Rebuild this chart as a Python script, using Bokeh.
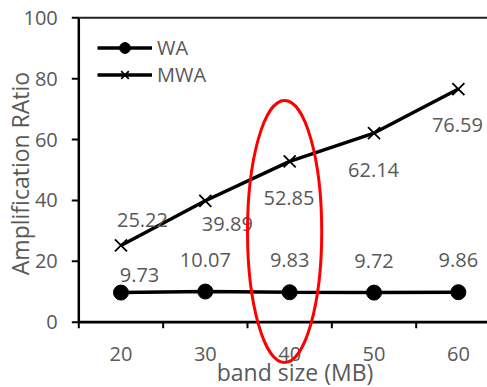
import math
from bokeh.plotting import figure
from bokeh.models import Range1d, Legend, LegendItem
from bokeh.core.properties import value
from bokeh.embed import file_html
from bokeh.resources import INLINE

# ---- data ----
band_sizes = [20, 30, 40, 50, 60]
wa = [9.73, 10.07, 9.83, 9.72, 9.86]
mwa = [25.22, 39.89, 52.85, 62.14, 76.59]
y_ticks = [0, 20, 40, 60, 80, 100]
x_tick_labels = ["20", "30", "40", "50", "60"]
series_names = ["WA", "MWA"]
y_title = "Amplification RAtio"
x_title = "band size (MB)"
highlight = 40

# ---- layout / style ----
W, H = 487, 387
STEP = 10
X_MIN = band_sizes[0] - STEP / 2          # left edge of category axis
PX_X = 84.35 / STEP                        # px per x unit
PX_Y = 3.044                               # px per y unit
LEFT_PX = 78.3
ZERO_PX = 321.7
Y_MAX = y_ticks[-1]

x_lo = X_MIN - LEFT_PX / PX_X
x_hi = X_MIN + (W - LEFT_PX) / PX_X
y_hi = ZERO_PX / PX_Y
y_lo = -(H - ZERO_PX) / PX_Y

GRAY = "#595959"
FONT_NAME = "Open Sans"
FONT = value(FONT_NAME)

p = figure(width=W, height=H, x_range=Range1d(x_lo, x_hi), y_range=Range1d(y_lo, y_hi),
           output_backend="svg", toolbar_location=None, min_border=0,
           x_axis_location=None, y_axis_location=None)
p.grid.visible = False
p.outline_line_color = None
p.background_fill_color = "white"
p.border_fill_color = "white"

# axis lines
p.segment(x0=[X_MIN], y0=[0], x1=[X_MIN], y1=[Y_MAX], line_color="black", line_width=2.5)
p.segment(x0=[X_MIN], y0=[0], x1=[x_hi], y1=[0], line_color="black", line_width=2.7)
p.segment(x0=[X_MIN], y0=[Y_MAX], x1=[x_hi], y1=[Y_MAX], line_color="#222222", line_width=2)

# y ticks
p.segment(x0=[X_MIN - 7 / PX_X] * len(y_ticks), y0=y_ticks, x1=[X_MIN] * len(y_ticks), y1=y_ticks,
          line_color="black", line_width=2)
p.text(x=[X_MIN] * len(y_ticks), y=y_ticks, text=[str(t) for t in y_ticks], x_offset=-21,
       text_align="right", text_baseline="middle", text_font=FONT, text_font_size="20px",
       text_color=GRAY)

# x ticks (category boundaries)
bounds = [b - STEP / 2 for b in band_sizes]
p.segment(x0=bounds, y0=[0] * len(bounds), x1=bounds, y1=[-6 / PX_Y] * len(bounds),
          line_color="black", line_width=2)
p.text(x=band_sizes, y=[0] * len(band_sizes), text=x_tick_labels, y_offset=32,
       text_align="center", text_baseline="middle", text_font=FONT, text_font_size="20px",
       text_color=GRAY)

# axis titles
p.text(x=[X_MIN - (LEFT_PX - 19) / PX_X], y=[(ZERO_PX - 173) / PX_Y], text=[y_title],
       angle=math.pi / 2, text_align="center", text_baseline="middle", text_font=FONT,
       text_font_size="23px", text_color=GRAY)
p.text(x=[X_MIN + (294.5 - LEFT_PX) / PX_X], y=[-(371 - ZERO_PX) / PX_Y], text=[x_title],
       text_align="center", text_baseline="middle", text_font=FONT,
       text_font_size="23px", text_color=GRAY)

# series
r_wa_line = p.line(band_sizes, wa, line_width=3.5, line_color="black")
r_wa_pts = p.scatter(band_sizes, wa, marker="circle", size=15, fill_color="black", line_color="black")
r_mwa_line = p.line(band_sizes, mwa, line_width=3.5, line_color="black")
r_mwa_pts = p.scatter(band_sizes, mwa, marker="x", size=17, line_color="black", line_width=1.8)

# data labels
wa_dx = [18.5, 0, 0, 0, 0]
wa_dy = [-18, -32, -32, -32, -32]
mwa_dx = [21.5, 22, -0.7, -0.5, -1]
mwa_dy = [-25.4, 23.7, 36.7, 37, 36.4]
p.text(x=band_sizes, y=wa, text=[f"{v:.2f}" for v in wa], x_offset=wa_dx, y_offset=wa_dy,
       text_align="center", text_baseline="middle", text_font=FONT, text_font_size="20px",
       text_color=GRAY)
p.text(x=band_sizes, y=mwa, text=[f"{v:.2f}" for v in mwa], x_offset=mwa_dx, y_offset=mwa_dy,
       text_align="center", text_baseline="middle", text_font=FONT, text_font_size="20px",
       text_color=GRAY)

# highlight ellipse
p.ellipse(x=[highlight - 0.6], y=[29.8], width=[8.8], height=[86.1], fill_color=None,
          line_color="#ff0000", line_width=3)

legend = Legend(items=[LegendItem(label=series_names[0], renderers=[r_wa_line, r_wa_pts]),
                       LegendItem(label=series_names[1], renderers=[r_mwa_line, r_mwa_pts])],
                location=(97, 299), orientation="vertical", glyph_width=55, glyph_height=27,
                label_standoff=5, padding=0, margin=0, spacing=0,
                background_fill_alpha=0, border_line_alpha=0,
                label_text_font=FONT_NAME, label_text_font_size="20px", label_text_color=GRAY)
p.add_layout(legend)

open("out.html", "w").write(file_html(p, INLINE))
